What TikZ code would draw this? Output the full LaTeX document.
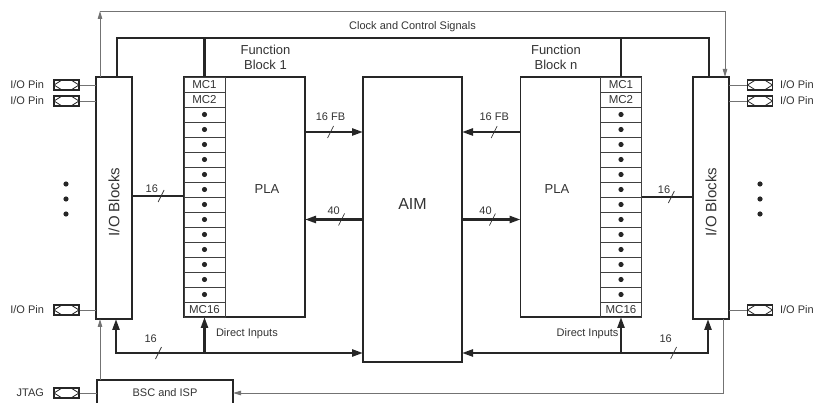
\documentclass[tikz,border=0pt]{standalone}
\usepackage{fontspec}
\setmainfont{Liberation Sans}
\usetikzlibrary{arrows.meta,positioning}

\begin{document}
\begin{tikzpicture}[
        x=1pt, y=-1pt,
        font=\fontsize{11}{13}\selectfont,
        text=black!80,
        >={Triangle[length=11pt,width=7pt]},
        outline/.style={draw=black!85, line width=1.3pt, inner sep=0pt, outer sep=0pt},
        iobox/.style={outline, minimum width=36pt, minimum height=242pt},
        fbbox/.style={outline, minimum width=121pt, minimum height=240pt},
        aimbox/.style={outline, minimum width=99pt, minimum height=285pt},
        bscbox/.style={outline, minimum width=136pt, minimum height=26pt},
        mccell/.style={draw=black!75, line width=0.8pt, minimum width=41pt, minimum height=15pt,
            inner sep=0pt, outer sep=0pt, font=\fontsize{11.5}{13}\selectfont},
        iopad/.style={draw=black!85, line width=1.1pt, minimum width=25pt, minimum height=10pt, inner sep=0pt,
            path picture={\draw[line width=0.8pt]
                (path picture bounding box.west) -- ([xshift=8pt]path picture bounding box.north west)
                -- ([xshift=-8pt]path picture bounding box.north east) -- (path picture bounding box.east)
                -- ([xshift=-8pt]path picture bounding box.south east) -- ([xshift=8pt]path picture bounding box.south west)
                -- cycle;}},
        bus/.style={draw=black!85, line width=2.4pt},
        sig/.style={draw=black!55, line width=0.9pt, >={Triangle[length=8pt,width=4.5pt]}},
        busslash/.style={minimum width=6pt, minimum height=12pt, inner sep=0pt, outer sep=0pt},
        slashln/.style={draw=black!80, line width=0.7pt},
        buslbl/.style={inner sep=0pt},
        bigtext/.style={font=\fontsize{13}{15}\selectfont, align=center}
    ]
    \useasboundingbox (0,0) rectangle (814,403);

    % blocks
    \node[iobox] (iol) at (114,198) {};
    \node[iobox] (ior) at (711,198) {};
    \node[fbbox] (fb1) at (244.5,197) {};
    \node[fbbox] (fbn) at (581,197) {};
    \node[aimbox] (aim) at (412.5,219.5) {};
    \node[bscbox] (bsc) at (165,393) {BSC and ISP};

    % macrocells
    \node[mccell, anchor=north west] (mcL1) at (fb1.north west) {MC1};
    \node[mccell, anchor=north east] (mcR1) at (fbn.north east) {MC1};
    \foreach \i [remember=\i as \j (initially 1)] in {2,...,16} {
        \node[mccell, below=0pt of mcL\j] (mcL\i) {\ifnum\i=2 MC2\fi\ifnum\i=16 MC16\fi};
        \node[mccell, below=0pt of mcR\j] (mcR\i) {\ifnum\i=2 MC2\fi\ifnum\i=16 MC16\fi};
        \ifnum\i>2 \ifnum\i<16
            \fill[black!85] (mcL\i) circle (2.6pt) (mcR\i) circle (2.6pt);
        \fi\fi
    }

    % texts in and over the blocks
    \node[bigtext] (fb1t) at ([xshift=21pt,yshift=20pt]fb1.north) {Function\\Block 1};
    \node[bigtext] (fbnt) at ([xshift=-25pt,yshift=20pt]fbn.north) {Function\\Block n};
    \node[bigtext] (pla1) at (267,189) {PLA};
    \node[bigtext] (plan) at (557,189) {PLA};
    \node[font=\fontsize{16}{18}\selectfont] (aimt) at ([yshift=16pt]aim.center) {AIM};
    \node[rotate=90, font=\fontsize{15}{17}\selectfont] (iolt) at ([yshift=-4pt]iol.center) {I/O Blocks};
    \node[rotate=90, font=\fontsize{15}{17}\selectfont] (iort) at ([yshift=-4pt]ior.center) {I/O Blocks};

    % pins
    \node[iopad] (pL1) at (66.5,85) {};
    \node[iopad] (pL2) at (66.5,101) {};
    \node[iopad] (pL3) at (66.5,310) {};
    \node[iopad] (pJ) at (66.5,393) {};
    \node[iopad] (pR1) at (760,85) {};
    \node[iopad] (pR2) at (760,101) {};
    \node[iopad] (pR3) at (760,310) {};
    \foreach \p in {pL1,pL2,pL3} {
        \node[left=6pt of \p] {I/O Pin};
        \draw[sig] (\p.east) -- (\p.east -| iol.west);
    }
    \foreach \p in {pR1,pR2,pR3} {
        \node[right=3.5pt of \p] {I/O Pin};
        \draw[sig] (\p.west) -- (\p.west -| ior.east);
    }
    \node[left=6pt of pJ] (jtag) {JTAG};
    \draw[sig] (pJ.east) -- (bsc.west);
    \foreach \y in {184,199,214}
        \fill[black!85] (66,\y) circle (2.6pt) (760,\y) circle (2.6pt);

    % clock and control
    \coordinate (clk) at ([yshift=39pt]aim.north);
    \draw[bus] ([xshift=21pt]iol.north west) |- (clk) -| ([xshift=-20pt]ior.north east);
    \draw[bus] (mcL1.north |- clk) -- (mcL1.north);
    \draw[bus] (mcR1.north |- clk) -- (mcR1.north);
    \node (clkt) at ([yshift=11pt]clk) {Clock and Control Signals};

    % JTAG ring
    \coordinate (top) at ([yshift=66pt]aim.north);
    \coordinate (sigL) at ([xshift=4pt]iol.north west);
    \coordinate (sigR) at ([xshift=-4pt]ior.north east);
    \coordinate (sigB) at ([xshift=-6pt]ior.south east);
    \coordinate (sigJ) at ([xshift=3pt]bsc.north west);
    \draw[sig,->] (sigL) -- (sigL |- top);
    \draw[sig,->] (sigL |- top) -| (sigR);
    \draw[sig,->] (sigB) |- (bsc.east);
    \draw[sig,->] (sigJ) -- (sigJ |- iol.south);

    % feedback and AIM buses
    \coordinate (fbL) at ([yshift=-55pt]fb1.north east);
    \coordinate (fbR) at ([yshift=-55pt]fbn.north west);
    \draw[bus,->] (fbL) -- node[busslash, pos=.44] (s1) {} (fbL -| aim.west);
    \draw[bus,->] (fbR) -- node[busslash, pos=.45] (s2) {} (fbR -| aim.east);
    \draw[bus,->] (aim.west) -- node[busslash, pos=.37] (s3) {} (aim.west -| fb1.east);
    \draw[bus,->] (aim.east) -- node[busslash, pos=.52] (s4) {} (aim.east -| fbn.west);
    \draw[bus] ([yshift=2pt]iol.east) -- node[busslash, pos=.56] (s5) {} ([yshift=2pt]iol.east -| fb1.west);
    \draw[bus] (fbn.east) -- node[busslash, pos=.58] (s6) {} (fbn.east -| ior.west);

    % direct inputs
    \coordinate (busL) at ([yshift=9pt]aim.south west);
    \coordinate (busR) at ([yshift=9pt]aim.south east);
    \draw[bus,<->] ([xshift=20pt]iol.south west) |- node[busslash, pos=.586] (s7) {} (busL);
    \draw[bus,<->] ([xshift=-21pt]ior.south east) |- node[busslash, pos=.57] (s8) {} (busR);
    \draw[bus,->] (mcL16.south |- busL) -- (mcL16.south);
    \draw[bus,->] (mcR16.south |- busR) -- (mcR16.south);

    % bus width marks
    \foreach \s in {s1,s2,s3,s4,s5,s6,s7,s8}
        \draw[slashln] (\s.south west) -- (\s.north east);
    \node[buslbl, above=5.5pt of s1] {16 FB};
    \node[buslbl, above=5.5pt of s2] {16 FB};
    \node[buslbl, above left=-1.5pt and -1.5pt of s3] {40};
    \node[buslbl, above left=-1.5pt and -2.5pt of s4] {40};
    \node[buslbl, above left=-2.5pt and 0pt of s5] {16};
    \node[buslbl, above left=-2.5pt and -2pt of s6] {16};
    \node[buslbl, above left=4.5pt and -1.5pt of s7] {16};
    \node[buslbl, above left=4.5pt and -1.5pt of s8] {16};

    \node[anchor=west] (din1) at ([xshift=8pt,yshift=-17pt]mcL16.south) {Direct Inputs};
    \node[anchor=east] (dinn) at ([xshift=1pt,yshift=-17pt]mcR16.south) {Direct Inputs};
\end{tikzpicture}
\end{document}
